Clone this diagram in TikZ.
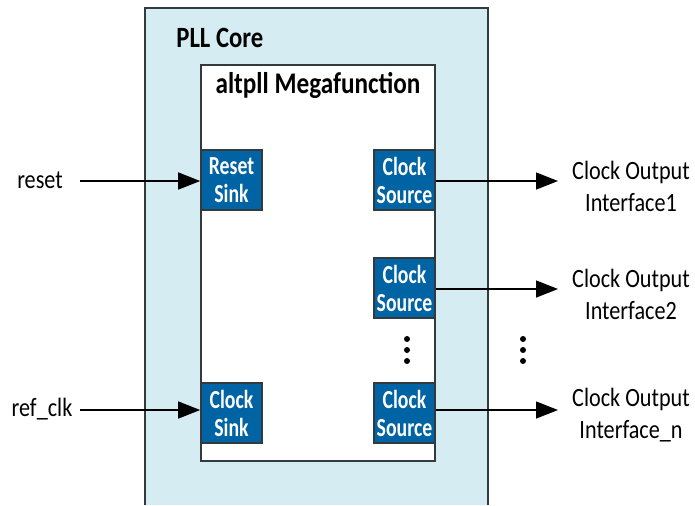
\documentclass[tikz,border=0pt]{standalone}
\usepackage{fontspec}
\setmainfont{Carlito}[FakeStretch=0.84]
\newfontfamily\narrowbf{Carlito}[FakeStretch=0.76]
\usetikzlibrary{arrows.meta}

\definecolor{pllfill}{HTML}{D5ECF2}
\definecolor{blkblue}{HTML}{0063A3}
\definecolor{edgegray}{HTML}{333A3E}

\tikzset{
    megabox/.style={draw=edgegray,line width=1.3pt,fill=white,minimum width=117pt,minimum height=198pt,inner sep=0pt},
    ifbox/.style={draw=edgegray,line width=0.8pt,fill=blkblue,text=white,font=\fontsize{13}{14}\narrowbf\bfseries,
                  align=center,minimum width=30.5pt,minimum height=30pt,inner sep=0pt,
                  execute at begin node={\rule{0pt}{12pt}}},
    sig/.style={line width=0.7pt,-{Triangle[length=11pt,width=8.5pt]}},
    lbl/.style={font=\fontsize{13.2}{16}\selectfont,align=center,inner sep=0pt},
    vdot/.style={fill=black,circle,inner sep=0pt,minimum size=3pt}
}

\begin{document}
\begin{tikzpicture}[x=0.5pt,y=-0.5pt]
                \useasboundingbox (0,0) rectangle (695,505);

                % PLL core, runs off the bottom of the page
                \fill[pllfill] (145,8) rectangle (488,505);
                \draw[edgegray,line width=1.1pt] (145,505) -- (145,8) -- (488,8) -- (488,505);
                \node[lbl,font=\fontsize{14.7}{16}\selectfont\bfseries,anchor=west] (pll) at (176,38) {PLL Core};

                \node[megabox] (mega) at (318,263) {};
                \node[lbl,font=\fontsize{15}{16}\selectfont\bfseries] (megalbl) at (318,85) {altpll Megafunction};

                % interfaces
                \node[ifbox] (rstsink) at (231.5,180) {Reset\\Sink};
                \node[ifbox] (clksink) at (231.5,413) {Clock\\Sink};
                \node[ifbox] (srcA) at (404.5,180) {Clock\\Source};
                \node[ifbox] (srcB) at (404.5,288) {Clock\\Source};
                \node[ifbox] (srcN) at (404.5,413) {Clock\\Source};

                % inputs
                \node[lbl] (reset) at (40,180) {reset};
                \node[lbl] (refclk) at (42,409) {ref\_clk};
                \coordinate (rstin) at (80,181);
                \coordinate (clkin) at (80,410);
                \draw[sig] (rstin) -- (rstin -| rstsink.west);
                \draw[sig] (clkin) -- (clkin -| clksink.west);

                % outputs
                \coordinate (outA) at (558,181);
                \coordinate (outB) at (558,289);
                \coordinate (outN) at (558,410);
                \draw[sig] (outA -| srcA.east) -- (outA);
                \draw[sig] (outB -| srcB.east) -- (outB);
                \draw[sig] (outN -| srcN.east) -- (outN);

                \node[lbl] (ifA) at (631,186) {Clock Output\\Interface1};
                \node[lbl] (ifB) at (631,294) {Clock Output\\Interface2};
                \node[lbl] (ifN) at (631,415) {Clock Output\\Interface\_n};

                % more sources
                \foreach \y in {339,350,361} {
                    \node[vdot] at (407,\y) {};
                    \node[vdot] at (523,\y) {};
                }
\end{tikzpicture}
\end{document}
